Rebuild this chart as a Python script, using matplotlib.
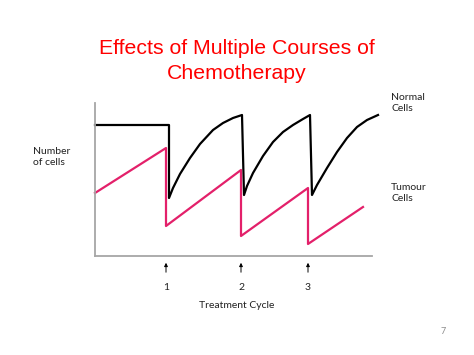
import matplotlib
matplotlib.use("Agg")
import matplotlib.pyplot as plt

# values (axis units = pixel offsets from the origin)
normal_x = [0, 74, 74, 78, 85, 95, 105, 118, 128, 138, 147,
            149, 152, 158, 168, 178, 188, 198, 208, 215,
            217, 222, 232, 242, 252, 262, 272, 283]
normal_y = [131, 131, 58, 68, 82, 98, 112, 126, 133, 138, 141,
            61, 70, 83, 100, 114, 124, 131, 137, 141,
            61, 71, 88, 104, 118, 129, 136, 141]
tumour_x = [0, 71, 71, 146, 146, 213, 213, 268]
tumour_y = [63, 108, 30, 86, 20, 68, 12, 49]
cycles = ["1", "2", "3"]
cycle_x = [71, 146, 213]

fig = plt.figure(figsize=(4.74, 3.55), dpi=100)
W, H = 474, 355
ax = fig.add_axes([95 / W, (H - 256) / H, 277 / W, 153 / H])
ax.set_xlim(0, 277)
ax.set_ylim(0, 153)

ax.plot(normal_x, normal_y, color="black", lw=1.6, clip_on=False,
        solid_joinstyle="round")
ax.plot(tumour_x, tumour_y, color="#e3206a", lw=1.6, clip_on=False)

for s in ["top", "right"]:
    ax.spines[s].set_visible(False)
for s in ["left", "bottom"]:
    ax.spines[s].set_color("#a6a6a6")
    ax.spines[s].set_linewidth(1.3)
ax.set_xticks([])
ax.set_yticks([])

small = dict(family=["Lato", "DejaVu Sans"], fontsize=7.5, color="#222222")
for lab, x in zip(cycles, cycle_x):
    ax.annotate("", xy=(x, -4), xytext=(x, -19), xycoords="data",
                arrowprops=dict(arrowstyle="-|>", color="black", lw=0.7,
                                mutation_scale=5), annotation_clip=False)
    ax.text(x, -32, lab, ha="center", va="center", **small)

fig.text(237 / W, 1 - 306 / H, "Treatment Cycle", ha="center", va="center", **small)
fig.text(33 / W, 1 - 157 / H, "Number\nof cells", ha="left", va="center",
         linespacing=1.3, **small)
fig.text(391 / W, 1 - 103 / H, "Normal\nCells", ha="left", va="center",
         linespacing=1.3, **small)
fig.text(391 / W, 1 - 193 / H, "Tumour\nCells", ha="left", va="center",
         linespacing=1.3, **small)

fig.text(237 / W, 1 - 61 / H, "Effects of Multiple Courses of\nChemotherapy",
         ha="center", va="center", color="#ff0000", fontsize=15.3,
         family=["Liberation Sans", "DejaVu Sans"], linespacing=1.35)
fig.text(443 / W, 1 - 331 / H, "7", ha="center", va="center", fontsize=6.5,
         color="#8c8c8c", family=["Lato", "DejaVu Sans"])

fig.savefig("out.png", dpi=100)
